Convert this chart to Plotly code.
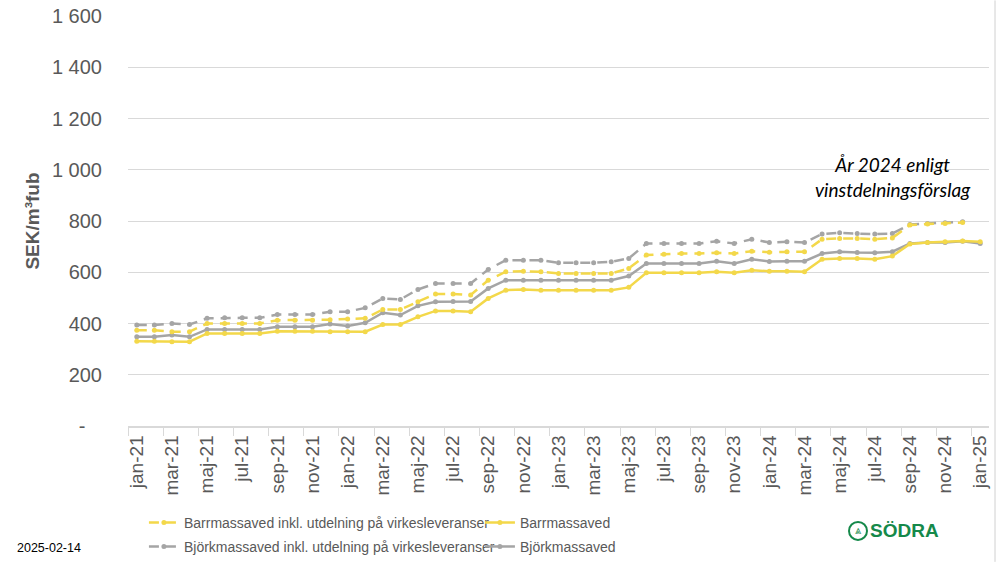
import plotly.graph_objects as go

months = [f"{m}-{y}" for y in ["21", "22", "23", "24"]
          for m in ["jan", "feb", "mar", "apr", "maj", "jun", "jul", "aug", "sep", "okt", "nov", "dec"]] + ["jan-25"]

barr_inkl = [374, 374, 368, 368, 400, 400, 400, 400, 413, 413, 413, 415,
             418, 420, 455, 455, 485, 515, 515, 511, 569, 602, 604, 602,
             595, 595, 595, 595, 615, 667, 670, 673, 673, 676, 673, 682,
             678, 680, 680, 729, 732, 732, 729, 734, 784, 788, 790, 794, None]
barr = [331, 331, 329, 329, 361, 361, 361, 361, 370, 370, 370, 368,
        368, 368, 396, 396, 426, 449, 449, 446, 498, 530, 533, 530,
        530, 530, 530, 530, 541, 598, 598, 598, 598, 602, 598, 608,
        604, 604, 602, 651, 654, 654, 651, 663, 710, 716, 719, 722, 719]
bjork_inkl = [394, 394, 400, 396, 420, 422, 422, 422, 435, 435, 435, 446,
              446, 461, 498, 494, 533, 556, 556, 556, 611, 647, 647, 647,
              637, 637, 637, 641, 654, 712, 712, 712, 712, 721, 712, 729,
              716, 719, 716, 749, 754, 751, 749, 751, 786, 790, 793, 797, None]
bjork = [348, 348, 355, 348, 377, 377, 377, 377, 387, 387, 387, 398,
         390, 403, 442, 433, 469, 485, 486, 486, 537, 569, 569, 569,
         569, 569, 569, 569, 585, 634, 634, 634, 634, 643, 634, 651,
         642, 643, 643, 673, 680, 677, 676, 680, 712, 716, 716, 721, 712]

y_ticks = [0, 200, 400, 600, 800, 1000, 1200, 1400, 1600]
y_labels = ["-\u00a0\u00a0\u00a0", "200", "400", "600", "800", "1 000", "1 200", "1 400", "1 600"]

YELLOW = "#F3D84A"
GRAY = "#A5A5A5"
TXT = "#595959"
SANS = "Liberation Sans, Arial"

fig = go.Figure()

def add(name, vals, color, dashed, legend):
    fig.add_trace(go.Scatter(
        x=months, y=vals, name=name, mode="lines+markers",
        line=dict(color=color, width=2.5, dash="10px,7px" if dashed else "solid"),
        marker=dict(color=color, size=5),
        legend=legend, connectgaps=False,
    ))

add("Björkmassaved inkl. utdelning på virkesleveranser", bjork_inkl, GRAY, True, "legend2")
add("Björkmassaved", bjork, GRAY, False, "legend2")
add("Barrmassaved inkl. utdelning på virkesleveranser", barr_inkl, YELLOW, True, "legend")
add("Barrmassaved", barr, YELLOW, False, "legend")

leg_common = dict(orientation="h", xanchor="left", yanchor="middle",
                  font=dict(family=SANS, size=14, color=TXT),
                  bgcolor="rgba(0,0,0,0)", entrywidth=291, entrywidthmode="pixels",
                  itemwidth=30, tracegroupgap=0)

PW, PH = 861, 410.4
PX0, PY0 = 128, 426  # pixel of plot-area left edge / x-axis baseline

fig.update_layout(
    width=1000, height=562,
    margin=dict(l=128, r=11, t=15.6, b=136, autoexpand=False),
    paper_bgcolor="white", plot_bgcolor="white",
    showlegend=True,
    legend=dict(x=0.0185, y=(PY0 - 523) / PH, traceorder="normal", **leg_common),
    legend2=dict(x=0.0185, y=(PY0 - 547) / PH, traceorder="normal", **leg_common),
    xaxis=dict(
        type="category", categoryorder="array", categoryarray=months,
        tickmode="linear", tick0=0, dtick=2, automargin=False,
        tickson="boundaries", ticks="outside", ticklen=8, tickcolor="#D9D9D9",
        showline=True, linecolor="#D9D9D9", linewidth=1.5,
        showgrid=False, tickangle=-90,
        tickfont=dict(family=SANS, size=19, color=TXT),
        range=[-0.5, 48.5],
    ),
    yaxis=dict(
        range=[0, 1600], tickvals=y_ticks, ticktext=y_labels, automargin=False,
        showgrid=True, gridcolor="#D9D9D9", gridwidth=1,
        zeroline=False, showline=False, ticks="",
        ticklabelstandoff=25,
        tickfont=dict(family=SANS, size=20, color=TXT),
        title=dict(text="<b>SEK/m³fub</b>", standoff=7,
                   font=dict(family=SANS, size=19, color=TXT)),
    ),
)

fig.add_annotation(
    xref="paper", yref="paper", x=(893 - PX0) / PW, y=(PY0 - 177) / PH,
    text="<i>År 2024 enligt<br>vinstdelningsförslag</i>", showarrow=False,
    font=dict(family="Lato, Open Sans", size=19, color="#000000"), align="center",
    xanchor="center", yanchor="middle",
)

fig.add_annotation(
    xref="paper", yref="paper", x=(15 - PX0) / PW, y=(PY0 - 548) / PH,
    text="2025-02-14", showarrow=False, xanchor="left", yanchor="middle",
    font=dict(family=SANS, size=12.5, color="#000000"),
)

GREEN = "#15894A"
fig.add_annotation(
    xref="paper", yref="paper", x=(868 - PX0) / PW, y=(PY0 - 531) / PH,
    text="<b>SÖDRA</b>", showarrow=False, xanchor="left", yanchor="middle",
    font=dict(family=SANS, size=19, color=GREEN),
)
fig.add_shape(type="circle", xref="paper", yref="paper",
              x0=(849 - PX0) / PW, x1=(867 - PX0) / PW,
              y0=(PY0 - 540) / PH, y1=(PY0 - 522) / PH,
              line=dict(color=GREEN, width=2))
fig.add_annotation(
    xref="paper", yref="paper", x=(858 - PX0) / PW, y=(PY0 - 531) / PH,
    text="⩓", showarrow=False, xanchor="center", yanchor="middle",
    font=dict(family="DejaVu Sans", size=11, color=GREEN),
)
fig.add_shape(type="line", xref="paper", yref="paper",
              x0=(995 - PX0) / PW, x1=(995 - PX0) / PW,
              y0=(PY0 - 562) / PH, y1=(PY0 - 0) / PH,
              line=dict(color="#D0D0D0", width=1))

fig.write_html("out.html", config={"displayModeBar": False},
               post_script="document.body.style.margin='0';")
